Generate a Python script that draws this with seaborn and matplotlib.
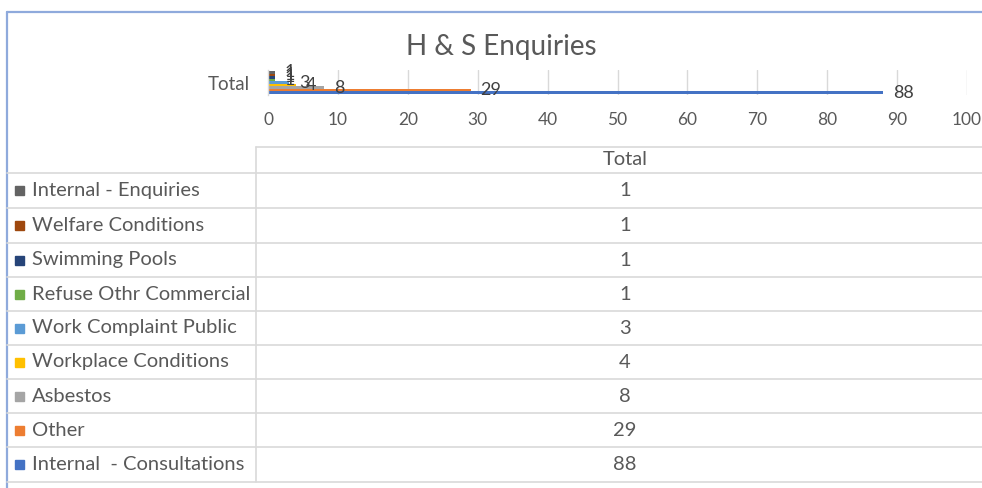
import matplotlib
matplotlib.use("Agg")
import matplotlib.pyplot as plt
import seaborn as sns
import pandas as pd
from matplotlib.lines import Line2D
from matplotlib.patches import Rectangle

# ---- data ----
categories = ["Internal - Enquiries", "Welfare Conditions", "Swimming Pools",
              "Refuse Othr Commercial", "Work Complaint Public", "Workplace Conditions",
              "Asbestos", "Other", "Internal  - Consultations"]
values = [1, 1, 1, 1, 3, 4, 8, 29, 88]
colors = ["#636363", "#9E480E", "#264478", "#70AD47", "#5B9BD5", "#FFC000",
          "#A5A5A5", "#ED7D31", "#4472C4"]
group_label = "Total"
x_ticks = [0, 10, 20, 30, 40, 50, 60, 70, 80, 90, 100]
title = "H & S Enquiries"

W, H = 982, 488
sns.set_theme(style="white")
FONT = ["Lato", "DejaVu Sans"]
plt.rcParams["font.family"] = FONT
TXT = "#595959"

fig = plt.figure(figsize=(W / 100, H / 100), dpi=100)
fig.patch.set_facecolor("white")

def fx(x):
    return x / W

def fy(y):
    return 1 - y / H

# ---- chart axes ----
ax_l, ax_r, ax_t, ax_b = 268, 967, 70, 95
ax = fig.add_axes([fx(ax_l), fy(ax_b), (ax_r - ax_l) / W, (ax_b - ax_t) / H])
df = pd.DataFrame({"cat": [group_label] * len(categories),
                   "series": categories, "value": values})
sns.barplot(data=df, x="value", y="cat", hue="series", hue_order=categories,
            palette=dict(zip(categories, colors)), orient="h", width=0.92,
            dodge=True, legend=False, ax=ax, saturation=1, linewidth=0)
ax.set_xlim(0, 100)
ax.set_ylim(0.5, -0.5)
ax.set_xticks(x_ticks)
ax.set_xticklabels([str(t) for t in x_ticks])
ax.set_xlabel("")
ax.set_ylabel("")
ax.grid(axis="x", color="#D9D9D9", linewidth=1)
ax.set_axisbelow(True)
for s in ["top", "right", "bottom"]:
    ax.spines[s].set_visible(False)
ax.spines["left"].set_color("#D9D9D9")
ax.spines["left"].set_linewidth(1)
ax.tick_params(axis="x", length=0, pad=12, labelsize=12.5, labelcolor=TXT)
ax.tick_params(axis="y", which="major", length=0, pad=13, labelsize=13.5, labelcolor=TXT)
ax.set_yticks([-0.5, 0.5], minor=True)
ax.tick_params(axis="y", which="minor", length=5, color="#D9D9D9", width=1)
ax.patch.set_alpha(0)

for cont in ax.containers:
    ax.bar_label(cont, labels=[f"{v:g}" for v in cont.datavalues], padding=7,
                 fontsize=13, color="#404040")

# title
fig.text(fx(501), fy(47), title, ha="center", va="center", fontsize=20, color=TXT)

# ---- border ----
bc = "#8FAADC"
fig.add_artist(Line2D([fx(7), fx(W)], [fy(12), fy(12)], color=bc, lw=1.6))
fig.add_artist(Line2D([fx(7), fx(7)], [fy(12), fy(H)], color=bc, lw=1.6))

# ---- data table ----
gc = "#D9D9D9"
row_lines = [173, 208, 243, 277, 311, 345, 379, 413, 447, 482]
fig.add_artist(Line2D([fx(256), fx(W)], [fy(147), fy(147)], color=gc, lw=1.2))
for y in row_lines:
    fig.add_artist(Line2D([fx(7), fx(W)], [fy(y), fy(y)], color=gc, lw=1.2))
fig.add_artist(Line2D([fx(256), fx(256)], [fy(147), fy(482)], color=gc, lw=1.2))

TS = 14.5
fig.text(fx(625), fy(160), group_label, ha="center", va="center", fontsize=TS, color=TXT)
for i, (cat, val, col) in enumerate(zip(categories, values, colors)):
    yc = (row_lines[i] + row_lines[i + 1]) / 2
    fig.add_artist(Rectangle((fx(15), fy(yc + 4.5)), 9 / W, 9 / H, color=col,
                             transform=fig.transFigure))
    fig.text(fx(32), fy(yc), cat, ha="left", va="center", fontsize=TS, color=TXT)
    fig.text(fx(625), fy(yc), f"{val:g}", ha="center", va="center", fontsize=TS, color=TXT)

fig.savefig("out.png", dpi=100)
